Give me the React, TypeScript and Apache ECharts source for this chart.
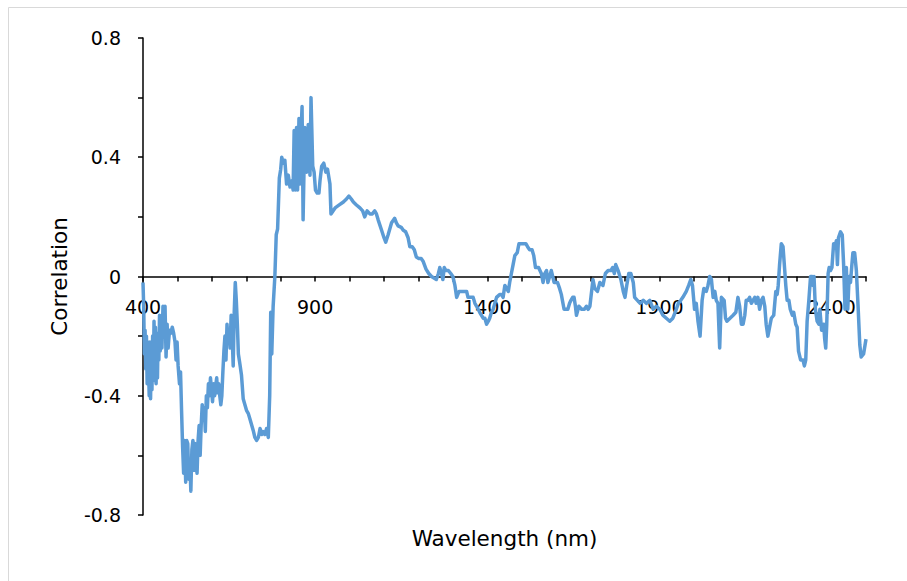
import React, { useEffect, useRef } from "react";
import * as echarts from "echarts";

const wavelength: number[] = [
  400, 402, 404, 406, 408, 410, 412, 414, 416, 418, 420, 422, 424, 426, 428, 430, 432, 434, 436, 438,
  440, 442, 444, 446, 448, 450, 452, 455, 458, 461, 464, 467, 470, 473, 477, 481, 485, 489, 493, 496,
  499, 502, 506, 509, 512, 515, 518, 521, 524, 527, 530, 533, 536, 539, 542, 545, 548, 551, 554, 557,
  560, 563, 566, 569, 572, 575, 578, 581, 584, 587, 590, 593, 596, 599, 602, 605, 608, 611, 614, 617,
  620, 623, 626, 629, 632, 635, 638, 641, 644, 647, 650, 653, 656, 659, 662, 665, 668, 671, 674, 677,
  681, 686, 691, 696, 701, 706, 711, 716, 721, 725, 730, 735, 740, 745, 749, 754, 759, 764, 768, 771,
  774, 778, 783, 787, 791, 796, 800, 803, 807, 812, 817, 822, 827, 832, 836, 839, 843, 846, 849, 853,
  856, 859, 862, 865, 870, 875, 880, 885, 888, 893, 897, 901, 906, 911, 914, 919, 925, 931, 936, 943,
  946, 952, 958, 970, 982, 991, 998, 1005, 1011, 1020, 1030, 1038, 1044, 1051, 1059, 1066, 1073, 1078, 1083, 1093,
  1100, 1105, 1112, 1122, 1131, 1136, 1141, 1150, 1156, 1163, 1170, 1175, 1182, 1188, 1194, 1201, 1208, 1214, 1222, 1230,
  1238, 1245, 1252, 1258, 1262, 1267, 1271, 1275, 1280, 1287, 1294, 1300, 1306, 1311, 1318, 1325, 1333, 1340, 1344, 1352,
  1359, 1364, 1369, 1378, 1388, 1393, 1398, 1403, 1407, 1412, 1417, 1422, 1427, 1436, 1441, 1446, 1451, 1456, 1461, 1465,
  1470, 1475, 1480, 1487, 1492, 1497, 1505, 1512, 1517, 1523, 1530, 1535, 1540, 1549, 1557, 1562, 1567, 1572, 1576, 1581,
  1586, 1594, 1604, 1610, 1615, 1623, 1634, 1639, 1643, 1648, 1652, 1656, 1659, 1666, 1674, 1682, 1688, 1693, 1698, 1701,
  1707, 1712, 1720, 1727, 1736, 1743, 1751, 1759, 1764, 1769, 1773, 1780, 1788, 1795, 1800, 1805, 1811, 1817, 1824, 1828,
  1836, 1844, 1853, 1862, 1872, 1882, 1891, 1901, 1910, 1920, 1930, 1939, 1949, 1955, 1962, 1968, 1978, 1985, 1991, 1996,
  2002, 2007, 2012, 2018, 2024, 2029, 2036, 2041, 2046, 2051, 2056, 2061, 2065, 2070, 2075, 2080, 2088, 2092, 2096, 2105,
  2114, 2122, 2128, 2133, 2138, 2143, 2148, 2152, 2157, 2162, 2167, 2172, 2177, 2181, 2186, 2191, 2196, 2201, 2206, 2210,
  2215, 2220, 2225, 2232, 2238, 2242, 2245, 2249, 2254, 2259, 2264, 2267, 2271, 2276, 2280, 2286, 2290, 2296, 2300, 2304,
  2310, 2317, 2321, 2325, 2329, 2334, 2339, 2344, 2346, 2349, 2353, 2358, 2363, 2366, 2371, 2377, 2380, 2383, 2386, 2390,
  2393, 2397, 2401, 2406, 2410, 2414, 2417, 2420, 2426, 2431, 2435, 2439, 2443, 2447, 2451, 2455, 2459, 2462, 2467, 2472,
  2477, 2482, 2486, 2493, 2500,
];

const correlation: number[] = [
  -0.02, -0.1, -0.26, -0.18, -0.31, -0.2, -0.36, -0.22, -0.3, -0.4, -0.22, -0.41, -0.25, -0.38, -0.2, -0.35, -0.15, -0.3, -0.17, -0.36,
  -0.22, -0.34, -0.19, -0.28, -0.13, -0.25, -0.16, -0.24, -0.1, -0.2, -0.1, -0.27, -0.16, -0.24, -0.18, -0.19, -0.17, -0.19, -0.22, -0.28,
  -0.22, -0.3, -0.36, -0.32, -0.45, -0.57, -0.66, -0.55, -0.69, -0.55, -0.56, -0.68, -0.62, -0.72, -0.58, -0.55, -0.65, -0.56, -0.62, -0.66,
  -0.55, -0.5, -0.6, -0.5, -0.43, -0.48, -0.44, -0.52, -0.4, -0.44, -0.36, -0.4, -0.34, -0.38, -0.42, -0.36, -0.4, -0.37, -0.34, -0.39,
  -0.36, -0.4, -0.43, -0.4, -0.32, -0.25, -0.2, -0.28, -0.16, -0.22, -0.18, -0.24, -0.13, -0.2, -0.3, -0.12, -0.02, -0.08, -0.16, -0.26,
  -0.29, -0.33, -0.41, -0.43, -0.45, -0.46, -0.48, -0.5, -0.52, -0.54, -0.55, -0.54, -0.51, -0.53, -0.52, -0.53, -0.51, -0.54, -0.4, -0.12,
  -0.26, -0.1, 0.0, 0.14, 0.16, 0.33, 0.36, 0.4, 0.38, 0.39, 0.31, 0.34, 0.3, 0.32, 0.29, 0.49, 0.29, 0.5, 0.29, 0.53,
  0.31, 0.48, 0.57, 0.19, 0.5, 0.35, 0.51, 0.34, 0.6, 0.37, 0.35, 0.29, 0.28, 0.28, 0.32, 0.37, 0.38, 0.35, 0.36, 0.31,
  0.21, 0.22, 0.23, 0.24, 0.25, 0.26, 0.27, 0.26, 0.25, 0.24, 0.23, 0.22, 0.2, 0.22, 0.21, 0.21, 0.22, 0.21, 0.19, 0.155,
  0.13, 0.115, 0.14, 0.18, 0.195, 0.18, 0.17, 0.165, 0.155, 0.15, 0.13, 0.1, 0.1, 0.09, 0.065, 0.06, 0.06, 0.05, 0.025, 0.01,
  0.0, -0.005, -0.01, 0.01, 0.03, 0.01, -0.01, 0.03, 0.02, 0.02, 0.01, 0.0, -0.03, -0.07, -0.05, -0.05, -0.05, -0.05, -0.07, -0.07,
  -0.07, -0.09, -0.1, -0.12, -0.14, -0.14, -0.16, -0.15, -0.14, -0.12, -0.11, -0.09, -0.07, -0.06, -0.06, -0.07, -0.03, -0.04, -0.05, -0.02,
  0.01, 0.04, 0.07, 0.08, 0.11, 0.11, 0.11, 0.11, 0.1, 0.09, 0.09, 0.07, 0.03, 0.03, 0.01, -0.02, 0.01, 0.02, -0.02, 0.0,
  0.02, -0.02, -0.02, -0.04, -0.06, -0.11, -0.11, -0.09, -0.08, -0.07, -0.07, -0.1, -0.13, -0.1, -0.11, -0.11, -0.1, -0.11, -0.1, -0.07,
  -0.01, -0.04, -0.05, -0.02, -0.03, 0.01, 0.02, 0.02, 0.03, 0.01, 0.04, 0.02, -0.01, -0.05, -0.07, -0.03, 0.01, 0.01, -0.02, -0.07,
  -0.08, -0.09, -0.08, -0.09, -0.08, -0.11, -0.1, -0.11, -0.13, -0.14, -0.15, -0.14, -0.11, -0.09, -0.08, -0.07, -0.05, -0.03, -0.01, -0.03,
  -0.11, -0.09, -0.15, -0.2, -0.08, -0.04, -0.05, -0.03, 0.0, -0.01, -0.07, -0.05, -0.08, -0.09, -0.24, -0.07, -0.08, -0.14, -0.15, -0.14,
  -0.13, -0.12, -0.07, -0.1, -0.16, -0.16, -0.13, -0.08, -0.08, -0.07, -0.09, -0.08, -0.07, -0.09, -0.07, -0.11, -0.08, -0.07, -0.1, -0.16,
  -0.2, -0.17, -0.14, -0.13, -0.05, -0.06, -0.03, 0.04, 0.11, 0.1, 0.02, -0.03, -0.08, -0.08, -0.11, -0.13, -0.12, -0.16, -0.17, -0.25,
  -0.28, -0.28, -0.3, -0.28, -0.15, -0.08, 0.0, 0.0, -0.03, 0.0, -0.11, -0.15, -0.16, -0.11, -0.18, -0.16, -0.21, -0.24, -0.16, 0.01,
  0.03, 0.02, 0.03, 0.11, 0.1, 0.12, 0.04, 0.13, 0.15, 0.14, 0.04, -0.11, 0.03, -0.11, 0.0, -0.02, 0.04, 0.08, 0.08, 0.02,
  -0.1, -0.23, -0.27, -0.26, -0.21,
];

const xAxisName = "Wavelength (nm)";
const yAxisName = "Correlation";

export default function App() {
  const ref = useRef<HTMLDivElement>(null);

  useEffect(() => {
    if (!ref.current) return;
    const chart = echarts.init(ref.current, undefined, { renderer: "svg" });
    const points = wavelength.map((w, i) => [w, correlation[i]]);
    const font = "DejaVu Sans";
    chart.setOption({
      animation: false,
      backgroundColor: "#ffffff",
      grid: { left: 143, right: 41, top: 38, bottom: 66, containLabel: false, outerBoundsMode: "none" },
      graphic: [
        {
          type: "rect",
          silent: true,
          z: -10,
          shape: { x: 8.5, y: 7.5, width: 1000, height: 1000 },
          style: { fill: "none", stroke: "#d9d9d9", lineWidth: 1 },
        },
      ],
      xAxis: {
        type: "value",
        min: 400,
        max: 2500,
        interval: 100,
        name: xAxisName,
        nameLocation: "middle",
        nameGap: 12,
        nameTextStyle: { color: "#000", fontFamily: font, fontSize: 21.5 },
        axisLine: { show: true, onZero: true, lineStyle: { color: "#000", width: 1.5 } },
        axisTick: { show: true, length: 5, lineStyle: { color: "#000", width: 1.5 } },
        axisLabel: {
          color: "#000",
          fontFamily: font,
          fontSize: 19,
          margin: -218,
          formatter: (v: number) => ((Math.round(v) - 400) % 500 === 0 && v < 2500 ? String(Math.round(v)) : ""),
        },
        splitLine: { show: false },
      },
      yAxis: {
        type: "value",
        min: -0.8,
        max: 0.8,
        interval: 0.2,
        name: yAxisName,
        nameLocation: "middle",
        nameGap: 73,
        nameRotate: 90,
        nameTextStyle: { color: "#000", fontFamily: font, fontSize: 21.5 },
        axisLine: { show: true, onZero: false, lineStyle: { color: "#000", width: 1.5 } },
        axisTick: { show: true, length: 5, lineStyle: { color: "#000", width: 1.5 } },
        axisLabel: {
          color: "#000",
          fontFamily: font,
          fontSize: 19,
          margin: 22,
          formatter: (v: number) => {
            const t = Math.round(v * 10);
            return Math.abs(t) % 4 === 0 ? String(t / 10) : "";
          },
        },
        splitLine: { show: false },
      },
      series: [
        {
          type: "line",
          data: points,
          showSymbol: false,
          symbol: "none",
          lineStyle: { color: "#5b9bd5", width: 3.5, join: "round" },
          z: 1,
        },
      ],
    });
    return () => chart.dispose();
  }, []);

  return (
    <div
      ref={ref}
      style={{ position: "fixed", left: 0, top: 0, width: 907, height: 581, background: "#fff" }}
    />
  );
}
